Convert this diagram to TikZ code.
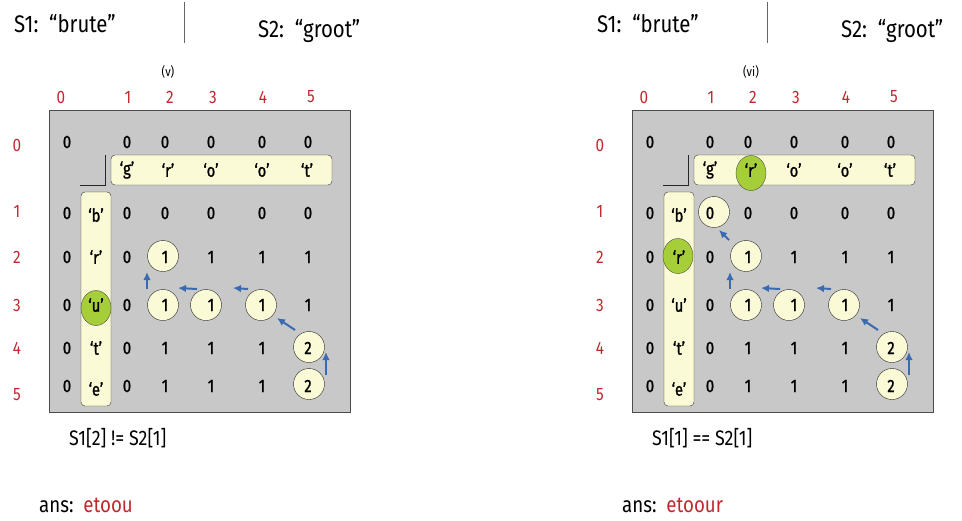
\documentclass[tikz,border=0pt]{standalone}
\usepackage{fontspec}
\setmainfont{Fira Sans}[FakeStretch=0.85]
\newfontfamily\cellfont{Fira Sans}[FakeStretch=0.82,FakeBold=1.2]
\usepackage{xcolor}
\usetikzlibrary{
	arrows.meta,
        shapes.geometric,
}
\definecolor{idxred}{RGB}{192,40,45}
\definecolor{tablegray}{RGB}{200,200,200}
\definecolor{paleyellow}{RGB}{250,250,214}
\definecolor{pickgreen}{RGB}{166,206,57}
\definecolor{arrowblue}{RGB}{58,106,176}
\pgfdeclarelayer{back}
\pgfdeclarelayer{mid}
\pgfsetlayers{back,mid,main}
\tikzset{
    head/.style={font=\fontsize{24}{24}\selectfont,inner sep=0pt},
    note/.style={font=\fontsize{21}{21}\selectfont,inner sep=0pt},
    ansline/.style={font=\fontsize{22}{22}\selectfont,inner sep=0pt},
    idx/.style={text=idxred,font=\fontsize{18}{18}\selectfont,inner sep=0pt},
    cell/.style={font=\cellfont\fontsize{18}{18}\selectfont,inner sep=0pt},
    hit/.style={circle,draw=black!85,fill=paleyellow,minimum size=31pt,inner sep=0pt},
    pick/.style={ellipse,draw=black!70,fill=pickgreen,minimum width=30pt,minimum height=35pt,inner sep=0pt},
    strbox/.style={draw=black!80,fill=paleyellow,rounded corners=4pt},
    arr/.style={-{Latex[length=8pt,width=7.5pt]},draw=arrowblue,fill=arrowblue,line width=2pt},
}
\begin{document}
\begin{tikzpicture}[x=1pt,y=-1pt]
            \useasboundingbox (0,0) rectangle (962,520);
            \foreach \dx/\p/\tg in {0/l/v,583/r/vi} {
            \begin{scope}[xshift=\dx]
            \begin{pgfonlayer}{back}
            \draw[draw=black!70,fill=tablegray] (49,110) rectangle (350,412);
            \draw[strbox] (111,155) rectangle (332,185);
            \draw[strbox] (81,192) rectangle (111,406);
            \end{pgfonlayer}
            \draw[black!85] (80,185) -- (105,185) -- (105,155);
            \draw[black!60] (184,2) -- (184,43);
            % headers
            \node[head,anchor=base west] (\p-s1) at (14,32) {S1:\ \ “brute”};
            \node[head,anchor=base west] (\p-s2) at (258,37) {S2:\ \ “groot”};
            \node[font=\fontsize{13}{13}\selectfont] (\p-tag) at (168,72) {(\tg)};
            % indices
            \foreach \i/\x in {0/61,1/128,2/170,3/213,4/263,5/311}
                \node[idx] (\p-ci\i) at (\x,97) {\i};
            \foreach \i/\y in {0/145,1/211,2/257,3/305,4/348,5/395}
                \node[idx] (\p-ri\i) at (17,\y) {\i};
            % the two strings
            \foreach \ch/\x [count=\j] in {g/127,r/168,o/211,o/262,t/307}
                \node[cell] (\p-b\j) at (\x,170) {‘\ch’};
            \foreach \ch/\y [count=\i] in {b/215,r/257,u/305,t/348,e/389}
                \node[cell] (\p-a\i) at (96,\y) {‘\ch’};
            % circled cells
            \begin{pgfonlayer}{mid}
            \foreach \i/\j/\x/\y in {2/2/163/256,3/2/163/305,3/3/206/305,3/4/261/305,4/5/309/347,5/5/309/384}
                \node[hit] (\p-h\i\j) at (\x,\y) {};
            \end{pgfonlayer}
            % table values
            \foreach \y/\vals [count=\i from 0] in {142/{0,0,0,0,0},213/{0,0,0,0,0},257/{0,1,1,1,1},305/{0,1,1,1,1},348/{0,1,1,1,2},386/{0,1,1,1,2}} {
                \node[cell] (\p-v\i0) at (67,\y) {0};
                \foreach \v [count=\j] in \vals {
                    \pgfmathsetmacro{\cx}{{127,165,211,262,308}[\j-1]}
                    \node[cell] (\p-v\i\j) at (\cx,\y) {\v};
                }
            }
            % trace back
            \draw[arr] ([shift={(17,-9)}]\p-h55.center) -- ([shift={(17,5)}]\p-h45.center);
            \draw[arr] ([shift={(-14,-17)}]\p-h45.center) -- ([shift={(16,13)}]\p-h34.center);
            \draw[arr] ([shift={(-13,-16)}]\p-h34.center) -- ([shift={(27,-17)}]\p-h33.center);
            \draw[arr] ([shift={(-9,-16)}]\p-h33.center) -- ([shift={(15,-17)}]\p-h32.center);
            \draw[arr] ([shift={(-16,-16)}]\p-h32.center) -- ([shift={(-16,16)}]\p-h22.center);
            \end{scope}
            }

            % (v)
            \begin{pgfonlayer}{mid}
            \node[pick] (l-gu) at (96,308) {};
            \end{pgfonlayer}
            \node[note,anchor=base west] (l-cmp) at (69,445) {S1[2] != S2[1]};
            \node[ansline,anchor=base west] (l-ans) at (39,512) {ans:\ \ \textcolor{idxred}{etoou}};

            % (vi)
            \begin{scope}[xshift=583]
            \begin{pgfonlayer}{mid}
            \node[pick] (r-gr1) at (168,173) {};
            \node[pick] (r-gr2) at (95,256) {};
            \node[hit] (r-h11) at (131,212) {};
            \end{pgfonlayer}
            \node[note,anchor=base west] (r-cmp) at (69,445) {S1[1] == S2[1]};
            \node[ansline,anchor=base west] (r-ans) at (39,512) {ans:\ \ \textcolor{idxred}{etoour}};
            \end{scope}
            \draw[arr] ([shift={(-17,-16)}]r-h22.center) -- ([shift={(5,18)}]r-h11.center);
	\end{tikzpicture}
\end{document}
